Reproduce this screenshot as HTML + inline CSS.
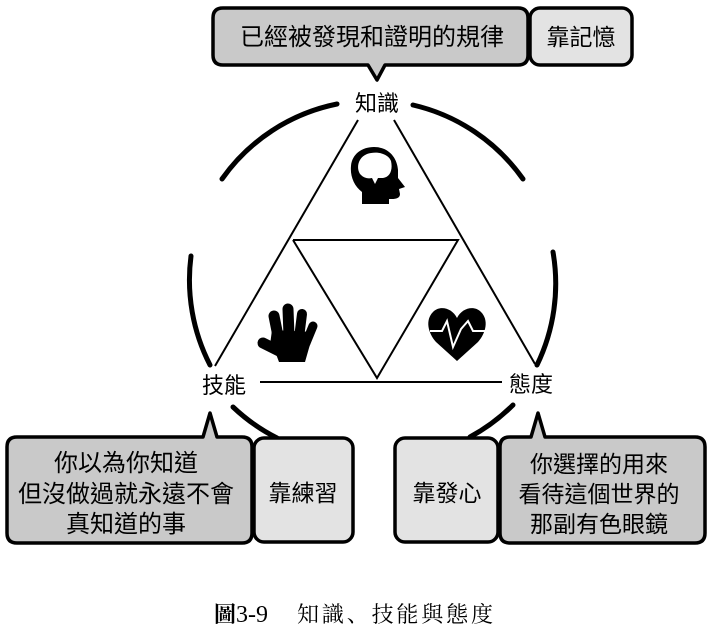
<!DOCTYPE html>
<html>
<head>
<meta charset="utf-8">
<style>
html,body{margin:0;padding:0;background:#fff;}
svg{display:block;}
text{font-family:"Liberation Sans","Noto Sans CJK TC",sans-serif;fill:#000;}
.cap{font-family:"Liberation Serif","Noto Serif CJK SC",serif;}
</style>
</head>
<body>
<svg width="717" height="632" viewBox="0 0 717 632" xmlns="http://www.w3.org/2000/svg">
  <rect width="717" height="632" fill="#fff"/>

  <!-- circle arcs -->
  <g fill="none" stroke="#000" stroke-width="5" stroke-linecap="round">
    <path d="M222,179 A186,186 0 0 1 337,104"/>
    <path d="M413,105 A186,186 0 0 1 523,179"/>
    <path d="M553,252 A186,186 0 0 1 537,365"/>
    <path d="M210,365 A186,186 0 0 1 191,256"/>
    <path d="M277,438 A186,186 0 0 1 233,407"/>
    <path d="M513,405 A186,186 0 0 1 470,437"/>
  </g>

  <!-- triangles -->
  <g fill="none" stroke="#000" stroke-width="2">
    <line x1="358" y1="120" x2="215" y2="366"/>
    <line x1="394" y1="120" x2="535" y2="364"/>
    <line x1="260" y1="382" x2="502" y2="382"/>
    <polyline points="293,240 458,240 377,378 293,240"/>
  </g>

  <!-- head icon -->
  <path d="M362,204 L362,192 C354,186 350,176 351,166 C352,154 362,147 374,147 C388,147 397,157 398,170 L398,178 L405,187 L399,189 L400,194 C400,198 396,199 392,199 L389,199 L389,204 Z" fill="#000"/>
  <path d="M361,175 C356,170 357,158 367,154 C376,151 388,153 391,161 C393,170 390,177 383,178 L378,178 L375,184 L372,178 C368,179 364,178 361,175 Z" fill="#fff"/>

  <!-- hand icon -->
  <g stroke="#000" stroke-linecap="round" fill="none">
    <line x1="274" y1="316" x2="278" y2="336" stroke-width="11"/>
    <line x1="288" y1="309" x2="289" y2="336" stroke-width="11"/>
    <line x1="302" y1="314" x2="299" y2="338" stroke-width="10"/>
    <line x1="313" y1="326" x2="306" y2="343" stroke-width="9"/>
    <line x1="263" y1="343" x2="281" y2="352" stroke-width="11"/>
  </g>
  <path d="M272,330 L314,332 L309,348 L305,362 L279,362 L276,354 L270,345 Z" fill="#000"/>

  <!-- heart icon -->
  <path d="M457,318 C452,308 440,305 433,312 C425,320 428,333 436,342 L457,361 L478,342 C486,333 489,320 481,312 C474,305 462,308 457,318 Z" fill="#000"/>
  <polyline points="430,331 442,331 447,321 453,347 461,329 468,321 473,331 487,331" fill="none" stroke="#fff" stroke-width="2"/>

  <!-- top boxes -->
  <path d="M223,8 L518,8 Q528,8 528,18 L528,55 Q528,65 518,65 L385,65 L377,80 L368,65 L223,65 Q213,65 213,55 L213,18 Q213,8 223,8 Z" fill="#c9c9c9" stroke="#000" stroke-width="3.5" stroke-linejoin="round"/>
  <rect x="530" y="8" width="102" height="57" rx="10" ry="10" fill="#e3e3e3" stroke="#000" stroke-width="3.5"/>

  <!-- bottom-left boxes -->
  <path d="M17,437 L203,437 L210,413 L217,437 L242,437 Q252,437 252,447 L252,533 Q252,543 242,543 L17,543 Q7,543 7,533 L7,447 Q7,437 17,437 Z" fill="#c9c9c9" stroke="#000" stroke-width="3.5" stroke-linejoin="round"/>
  <rect x="254" y="438" width="99" height="104" rx="10" ry="10" fill="#e3e3e3" stroke="#000" stroke-width="3.5"/>

  <!-- bottom-right boxes -->
  <rect x="395" y="438" width="103" height="104" rx="10" ry="10" fill="#e3e3e3" stroke="#000" stroke-width="3.5"/>
  <path d="M510,437 L531,437 L538,413 L545,437 L695,437 Q705,437 705,447 L705,533 Q705,543 695,543 L510,543 Q500,543 500,533 L500,447 Q500,437 510,437 Z" fill="#c9c9c9" stroke="#000" stroke-width="3.5" stroke-linejoin="round"/>

  <!-- labels -->
  <text x="377" y="111" font-size="22" text-anchor="middle">知識</text>
  <text x="224" y="393" font-size="22" text-anchor="middle">技能</text>
  <text x="531" y="392" font-size="22" text-anchor="middle">態度</text>

  <!-- box texts -->
  <text x="372" y="45" font-size="24" text-anchor="middle">已經被發現和證明的規律</text>
  <text x="581" y="45" font-size="23" text-anchor="middle">靠記憶</text>

  <text x="126" y="471" font-size="24" text-anchor="middle">你以為你知道</text>
  <text x="126" y="502" font-size="24" text-anchor="middle">但沒做過就永遠不會</text>
  <text x="126" y="532" font-size="24" text-anchor="middle">真知道的事</text>
  <text x="303" y="501" font-size="23" text-anchor="middle">靠練習</text>

  <text x="447" y="501" font-size="23" text-anchor="middle">靠發心</text>
  <text x="599" y="472" font-size="23" text-anchor="middle">你選擇的用來</text>
  <text x="599" y="502" font-size="23" text-anchor="middle">看待這個世界的</text>
  <text x="599" y="532" font-size="23" text-anchor="middle">那副有色眼鏡</text>

  <!-- caption -->
  <text class="cap" x="214" y="622" font-size="22" font-weight="bold">圖</text>
  <text class="cap" x="236" y="622" font-size="24">3-9</text>
  <text class="cap" x="297" y="622" font-size="22" textLength="196" lengthAdjust="spacing">知識、技能與態度</text>
</svg>
</body>
</html>
